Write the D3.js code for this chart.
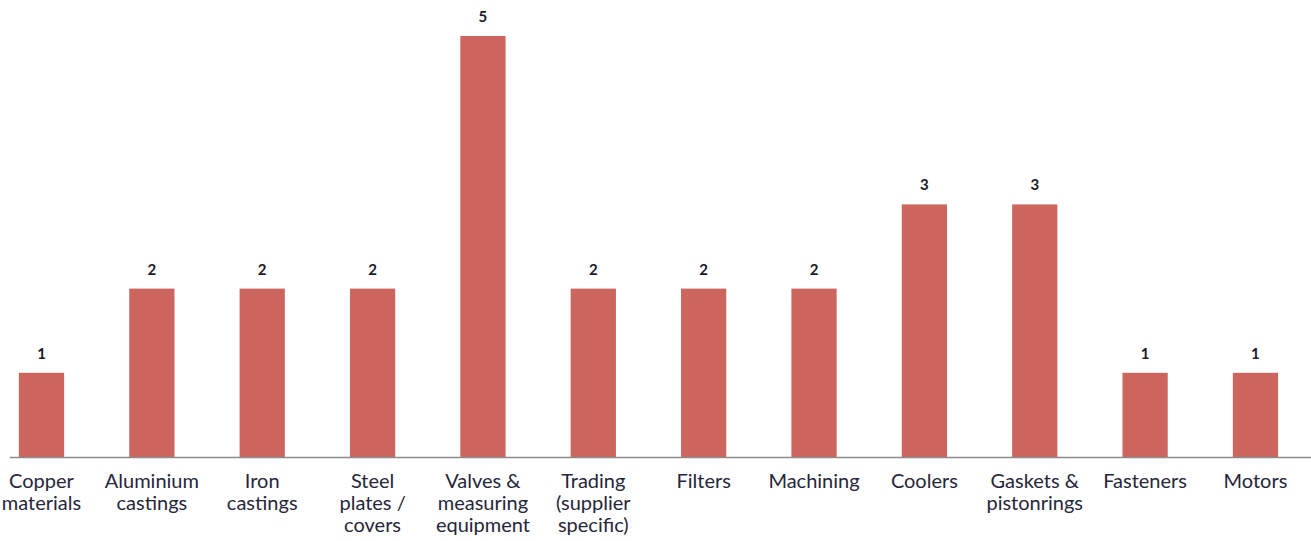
<!DOCTYPE html>
<html>
<head>
<meta charset="utf-8">
<script src="https://cdn.jsdelivr.net/npm/d3@7"></script>
<style>
  html, body { margin: 0; padding: 0; background: #fff; }
  svg { display: block; }
</style>
</head>
<body>
<svg id="chart" width="1311" height="541"></svg>
<script>
// Supplier categories (line breaks marked with "\n")
const categories = [
  "Copper\nmaterials",
  "Aluminium\ncastings",
  "Iron\ncastings",
  "Steel\nplates /\ncovers",
  "Valves &\nmeasuring\nequipment",
  "Trading\n(supplier\nspecific)",
  "Filters",
  "Machining",
  "Coolers",
  "Gaskets &\npistonrings",
  "Fasteners",
  "Motors"
];
const counts = [1, 2, 2, 2, 5, 2, 2, 2, 3, 3, 1, 1];

const svg = d3.select("#chart");
const baseY = 457;
const step = 110.36;
const firstCenter = 41.5;

const x = d3.scaleBand()
  .domain(categories)
  .range([firstCenter - step / 2, firstCenter - step / 2 + step * categories.length])
  .paddingInner(0.59)
  .paddingOuter(0.295);

const y = d3.scaleLinear().domain([0, 5]).range([baseY, 36]);

// bars
svg.append("g").selectAll("rect")
  .data(counts)
  .join("rect")
  .attr("x", (d, i) => x(categories[i]))
  .attr("y", d => y(d))
  .attr("width", x.bandwidth())
  .attr("height", d => y(0) - y(d))
  .attr("fill", "#cd655f");

// category axis
const axis = svg.append("g")
  .attr("transform", `translate(0,${baseY})`)
  .call(d3.axisBottom(x).tickSize(0).tickFormat(""));
axis.select(".domain")
  .attr("d", `M10,0.5H1311`)
  .attr("stroke", "#8c8c8c")
  .attr("stroke-width", 1.6);

// multi-line category labels
const labels = svg.append("g")
  .attr("font-family", "Lato, 'Open Sans', sans-serif")
  .attr("font-size", 20)
  .attr("fill", "#26263a")
  .attr("text-anchor", "middle");
categories.forEach(c => {
  const t = labels.append("text")
    .attr("x", x(c) + x.bandwidth() / 2)
    .attr("y", baseY + 31);
  c.split("\n").forEach((line, j) => {
    t.append("tspan")
      .attr("x", x(c) + x.bandwidth() / 2)
      .attr("dy", j === 0 ? 0 : 22)
      .text(line);
  });
});

// value labels
svg.append("g")
  .attr("font-family", "Lato, 'Open Sans', sans-serif")
  .attr("font-size", 15)
  .attr("font-weight", "bold")
  .attr("fill", "#1a1a2a")
  .attr("text-anchor", "middle")
  .selectAll("text")
  .data(counts)
  .join("text")
  .attr("x", (d, i) => x(categories[i]) + x.bandwidth() / 2)
  .attr("y", d => y(d) - 14)
  .text(d => d);
</script>
</body>
</html>
